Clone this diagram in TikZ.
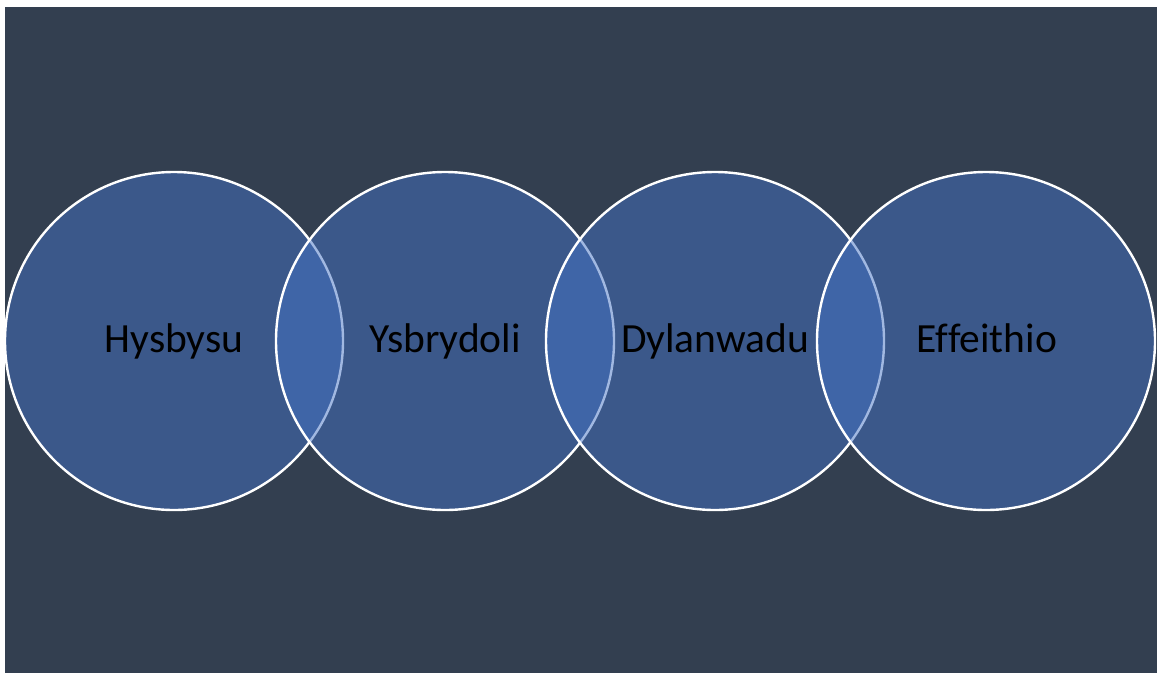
\documentclass[tikz,border=0pt]{standalone}
\usepackage{fontspec}
\setmainfont{Carlito}[Ligatures={NoCommon}]
\definecolor{bgc}{HTML}{333F50}
\definecolor{circc}{HTML}{4472C4}
\tikzset{
  ring/.style={circle, minimum size=338pt, inner sep=0pt, draw=white, line width=2.4pt,
    fill=circc, fill opacity=0.5},
  lbl/.style={anchor=base, inner sep=0pt, text=black, font=\fontsize{41.5}{46}\selectfont},
}
\begin{document}
\begin{tikzpicture}[x=1pt,y=1pt]
\useasboundingbox (0,0) rectangle (1157,-673);
\fill[white] (0,0) rectangle (1157,-673);
\fill[bgc] (5,-7) rectangle (1157,-673);
\node[ring] (c1) at (174,-341) {};
\node[ring] (c2) at (445,-341) {};
\node[ring] (c3) at (715,-341) {};
\node[ring] (c4) at (986,-341) {};
\node[lbl] (t1) at (174,-352) {Hysbysu};
\node[lbl] (t2) at (445,-352) {Ysbrydoli};
\node[lbl] (t3) at (715,-352) {Dylanwadu};
\node[lbl] (t4) at (987,-352) {Effeithio};
\end{tikzpicture}
\end{document}
